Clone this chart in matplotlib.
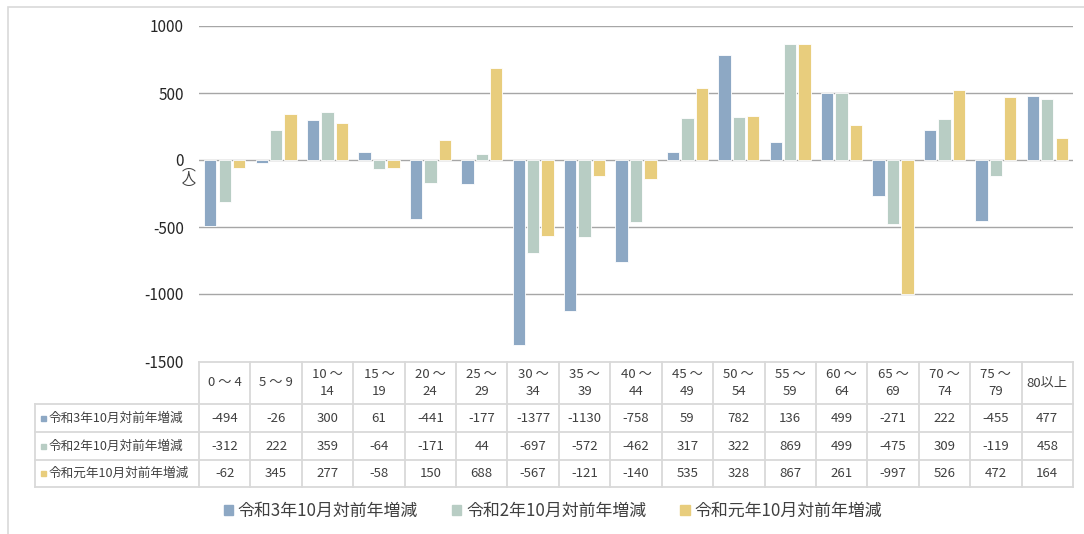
import numpy as np
import matplotlib.pyplot as plt
from matplotlib.patches import Patch, Rectangle
from matplotlib.lines import Line2D

plt.rcParams['font.family'] = ['Noto Sans CJK JP', 'DejaVu Sans']
plt.rcParams['axes.unicode_minus'] = False

age_groups = ['0 ～ 4', '5 ～ 9', '10 ～\n14', '15 ～\n19', '20 ～\n24', '25 ～\n29', '30 ～\n34',
              '35 ～\n39', '40 ～\n44', '45 ～\n49', '50 ～\n54', '55 ～\n59', '60 ～\n64',
              '65 ～\n69', '70 ～\n74', '75 ～\n79', '80以上']
series_names = ['令和3年10月対前年増減', '令和2年10月対前年増減', '令和元年10月対前年増減']
r3 = [-494, -26, 300, 61, -441, -177, -1377, -1130, -758, 59, 782, 136, 499, -271, 222, -455, 477]
r2 = [-312, 222, 359, -64, -171, 44, -697, -572, -462, 317, 322, 869, 499, -475, 309, -119, 458]
r1 = [-62, 345, 277, -58, 150, 688, -567, -121, -140, 535, 328, 867, 261, -997, 526, 472, 164]
y_ticks = [-1500, -1000, -500, 0, 500, 1000]
colors = ['#8DA8C4', '#B8CDC4', '#E8CD7D']

W, H = 1084, 534
fig = plt.figure(figsize=(W / 100, H / 100), dpi=100)

def fx(p):
    return p / W

def fy(p):
    return 1 - p / H

# outer chart frame
fig.add_artist(Rectangle((fx(8), fy(560)), 1.2, fy(7) - fy(560), transform=fig.transFigure,
                         fill=False, edgecolor='#D9D9D9', lw=1.2))

left, right, top, bottom = 199, 1073, 26, 361
ax = fig.add_axes([fx(left), fy(bottom), fx(right - left), fy(top) - fy(bottom)])

series = [r3, r2, r1]
x = np.arange(len(age_groups))
for i, (vals, c) in enumerate(zip(series, colors)):
    ax.bar(x + (i - 1) * 0.28, vals, width=0.24, color=c, edgecolor='white', lw=0.6, zorder=3)

for t in y_ticks[1:]:
    ax.axhline(t, color='#A6A6A6', lw=1, zorder=1)

ax.set_xlim(-0.5, len(age_groups) - 0.5)
ax.set_ylim(y_ticks[0], y_ticks[-1])
ax.set_yticks(y_ticks)
ax.set_xticks([])
ax.tick_params(axis='y', length=0, pad=11, labelsize=11, labelcolor='#262626')
for s in ax.spines.values():
    s.set_visible(False)

fig.text(fx(189), fy(178), '︵\n人\n︶', ha='center', va='center', fontsize=10,
         linespacing=0.8, color='#404040')

# data table
ncol = len(age_groups)
cw = (right - left) / ncol
col_edges = [left + cw * k for k in range(ncol + 1)]
row_edges = [362, 404, 432, 460, 487]
lab_left = 35
grid_c = '#D9D9D9'

def hline(y, x0, x1):
    fig.add_artist(Line2D([fx(x0), fx(x1)], [fy(y), fy(y)], transform=fig.transFigure,
                          color=grid_c, lw=1.3))

def vline(x0, y0, y1):
    fig.add_artist(Line2D([fx(x0), fx(x0)], [fy(y0), fy(y1)], transform=fig.transFigure,
                          color=grid_c, lw=1.3))

hline(row_edges[0], left, right)
for y in row_edges[1:]:
    hline(y, lab_left, right)
vline(lab_left, row_edges[1], row_edges[-1])
for cx in col_edges:
    vline(cx, row_edges[0], row_edges[-1])

for k, lab in enumerate(age_groups):
    cx = (col_edges[k] + col_edges[k + 1]) / 2
    fig.text(fx(cx), fy((row_edges[0] + row_edges[1]) / 2), lab, ha='center', va='center',
             fontsize=9.5, color='#404040', linespacing=1.35)
    for r, vals in enumerate(series):
        cy = (row_edges[r + 1] + row_edges[r + 2]) / 2
        fig.text(fx(cx), fy(cy), str(vals[k]), ha='center', va='center',
                 fontsize=9.5, color='#404040')

for r, (name, c) in enumerate(zip(series_names, colors)):
    cy = (row_edges[r + 1] + row_edges[r + 2]) / 2
    fig.add_artist(Rectangle((fx(41), fy(cy + 2.5)), fx(5), fy(cy - 2.5) - fy(cy + 2.5),
                             transform=fig.transFigure, color=c))
    fig.text(fx(49), fy(cy), name, ha='left', va='center', fontsize=9.1, color='#404040')

handles = [Patch(color=c) for c in colors]
fig.legend(handles, series_names, loc='center', bbox_to_anchor=(fx(553), fy(511)), ncol=3,
           frameon=False, fontsize=12.2, handlelength=0.55, handleheight=0.55,
           handletextpad=0.3, columnspacing=2.0, labelcolor='#404040')

fig.savefig('out.png', dpi=100)
